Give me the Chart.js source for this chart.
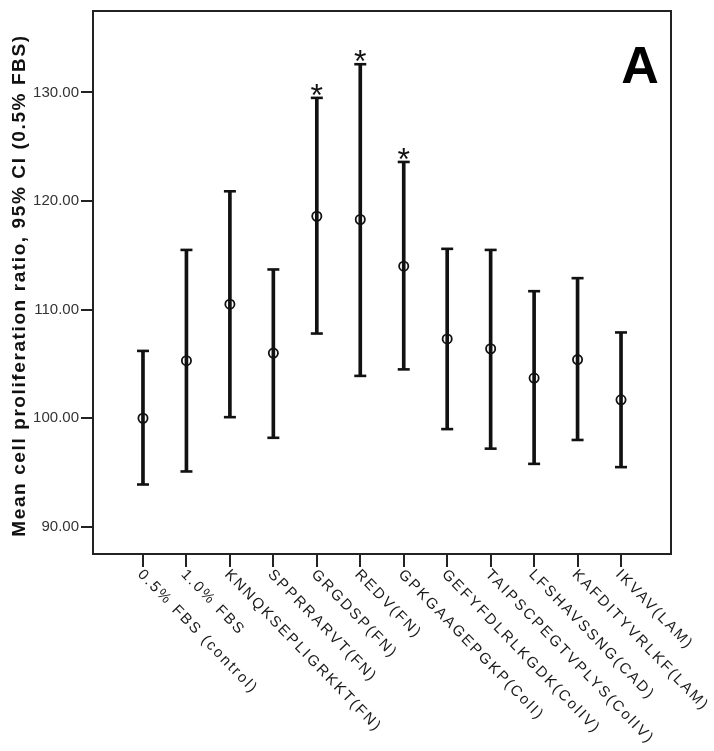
<!DOCTYPE html>
<html><head><meta charset="utf-8">
<script src="https://cdn.jsdelivr.net/npm/chart.js@4.4.0/dist/chart.umd.min.js"></script>
<style>html,body{margin:0;padding:0;background:#fff;} canvas{display:block;}</style>
</head><body>
<canvas id="c" width="714" height="751"></canvas>
<script>
const categories = ["0.5% FBS (control)","1.0% FBS","KNNQKSEPLIGRKKT(FN)","SPPRRARVT(FN)","GRGDSP(FN)","REDV(FN)","GPKGAAGEPGKP(ColI)","GEFYFDLRLKGDK(ColIV)","TAIPSCPEGTVPLYS(ColIV)","LFSHAVSSNG(CAD)","KAFDITYVRLKF(LAM)","IKVAV(LAM)"];
const means = [100.0,105.3,110.5,106.0,118.6,118.3,114.0,107.3,106.4,103.7,105.4,101.7];
const ciLower = [93.9,95.1,100.1,98.2,107.8,103.9,104.5,99.0,97.2,95.8,98.0,95.5];
const ciUpper = [106.2,115.5,120.9,113.7,129.5,132.6,123.6,115.6,115.5,111.7,112.9,107.9];
const significant = [false,false,false,false,true,true,true,false,false,false,false,false];
const yTicks = [90,100,110,120,130];
const yTitle = "Mean cell proliferation ratio, 95% CI (0.5% FBS)";
const panelLabel = "A";

const FONT = '"Liberation Sans", Arial, Helvetica, sans-serif';

const frameAndText = {
  id: 'frameAndText',
  afterDraw(chart) {
    const {ctx, chartArea: a, scales: {x, y}} = chart;
    ctx.save();
    ctx.strokeStyle = '#222'; ctx.lineWidth = 2;
    ctx.strokeRect(a.left, a.top, a.right - a.left, a.bottom - a.top);

    // x category labels, rotated clockwise
    ctx.fillStyle = '#1a1a1a';
    ctx.font = '15px ' + FONT;
    ctx.letterSpacing = '2.2px';
    ctx.textAlign = 'left'; ctx.textBaseline = 'middle';
    categories.forEach((lab, i) => {
      const px = x.getPixelForValue(i);
      ctx.save();
      ctx.translate(px - 3, a.bottom + 18);
      ctx.rotate(46 * Math.PI / 180);
      ctx.fillText(lab, 0, 0);
      ctx.restore();
    });

    // y title
    ctx.save();
    ctx.font = 'bold 19px ' + FONT;
    ctx.letterSpacing = '1.6px';
    ctx.fillStyle = '#111';
    ctx.textAlign = 'center'; ctx.textBaseline = 'middle';
    ctx.translate(20, (a.top + a.bottom) / 2 + 3);
    ctx.rotate(-Math.PI / 2);
    ctx.fillText(yTitle, 0, 0);
    ctx.restore();

    // significance asterisks
    ctx.letterSpacing = '0px';
    ctx.font = '32px ' + FONT;
    ctx.fillStyle = '#111';
    ctx.textAlign = 'center'; ctx.textBaseline = 'alphabetic';
    significant.forEach((s, i) => {
      if (!s) return;
      const px = x.getPixelForValue(i);
      const py = y.getPixelForValue(ciUpper[i]);
      ctx.fillText('*', px, py + 8);
    });

    // panel label
    ctx.font = 'bold 52px ' + FONT;
    ctx.fillStyle = '#000';
    ctx.fillText(panelLabel, a.right - 31, a.top + 72);
    ctx.restore();
  }
};

new Chart(document.getElementById('c'), {
  type: 'scatter',
  data: {
    datasets: [
      { type: 'bar', data: categories.map((c, i) => ({x: i, y: [ciLower[i], ciUpper[i]]})),
        backgroundColor: '#111', borderWidth: 0, barThickness: 3, order: 4 },
      { type: 'scatter', data: ciUpper.map((v, i) => ({x: i, y: v})), pointStyle: 'line',
        radius: 6, borderColor: '#111', borderWidth: 2.6, order: 3 },
      { type: 'scatter', data: ciLower.map((v, i) => ({x: i, y: v})), pointStyle: 'line',
        radius: 6, borderColor: '#111', borderWidth: 2.6, order: 2 },
      { type: 'scatter', data: means.map((v, i) => ({x: i, y: v})), pointStyle: 'circle',
        radius: 4.6, borderColor: '#111', backgroundColor: 'rgba(0,0,0,0)', borderWidth: 1.8, order: 1 }
    ]
  },
  options: {
    responsive: false, animation: false, devicePixelRatio: 1,
    layout: {padding: {top: 8, right: 43, left: 0, bottom: 0}},
    plugins: {legend: {display: false}, tooltip: {enabled: false}},
    scales: {
      x: {
        type: 'linear', min: -1.15, max: 12.15, offset: false,
        afterBuildTicks: s => { s.ticks = categories.map((c, i) => ({value: i})); },
        ticks: {display: false},
        grid: {offset: false, drawOnChartArea: false, drawTicks: true, tickLength: 13, color: '#222', lineWidth: 2},
        border: {display: true, color: '#222', width: 2},
        afterFit: s => { s.height = 197; }
      },
      y: {
        type: 'linear', min: 87.5, max: 137.5,
        afterBuildTicks: s => { s.ticks = yTicks.map(v => ({value: v})); },
        ticks: {callback: v => Number(v).toFixed(2), color: '#333', font: {size: 15, family: FONT}, padding: 2},
        grid: {drawOnChartArea: false, drawTicks: true, tickLength: 12, color: '#222', lineWidth: 2},
        border: {display: true, color: '#222', width: 2},
        afterFit: s => { s.width = 93; }
      }
    }
  },
  plugins: [frameAndText]
});
</script>
</body></html>
